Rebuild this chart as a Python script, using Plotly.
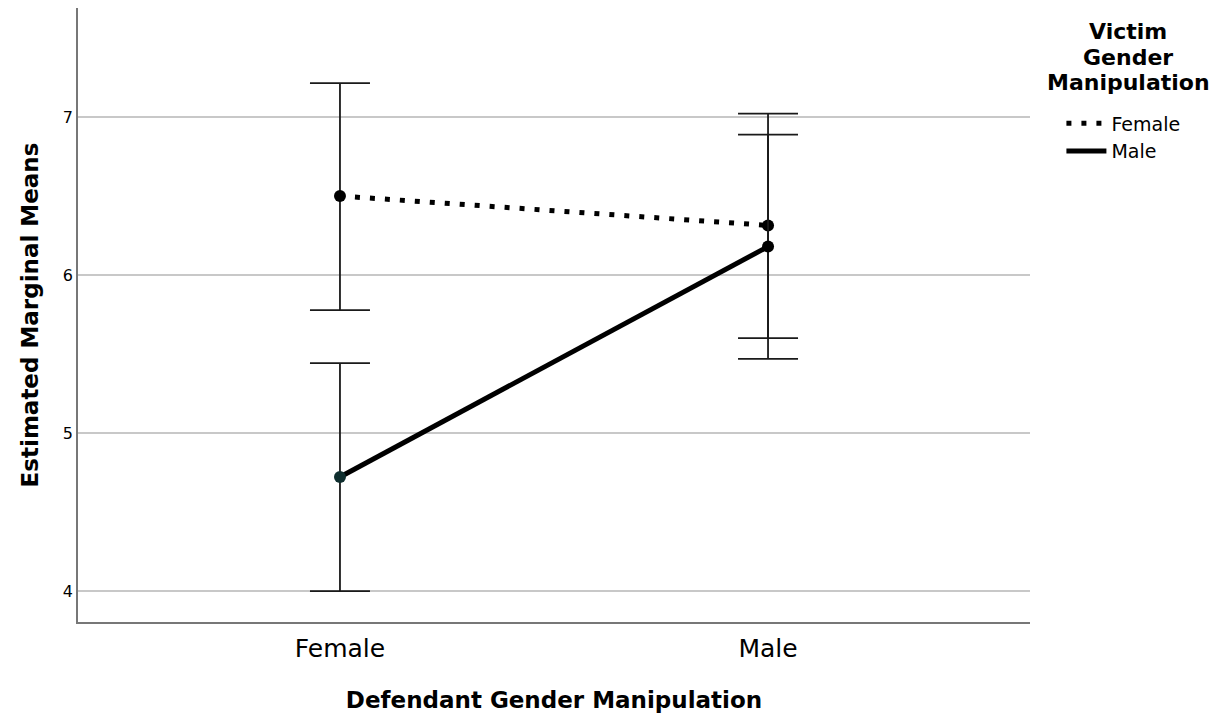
import plotly.graph_objects as go

defendant = ["Female", "Male"]
victim_groups = ["Female", "Male"]
means_female_victim = [6.50, 6.314]
upper_female_victim = [7.215, 7.021]
lower_female_victim = [5.778, 5.601]
means_male_victim = [4.722, 6.180]
upper_male_victim = [5.443, 6.889]
lower_male_victim = [4.000, 5.469]
legend_title_lines = ["Victim", "Gender", "Manipulation"]

FONT = "DejaVu Sans"
DOT = "5px,10px"

fig = go.Figure()

def add_series(name, means, upper, lower, dash, marker_color):
    fig.add_trace(go.Scatter(
        x=defendant, y=means, name=name, mode="lines+markers", showlegend=False,
        line=dict(color="black", width=5, dash=dash),
        marker=dict(color=marker_color, size=12, line=dict(width=0)),
        error_y=dict(type="data", symmetric=False,
                     array=[u - m for u, m in zip(upper, means)],
                     arrayminus=[m - l for m, l in zip(means, lower)],
                     color="#1a1a1a", thickness=1.8, width=30),
    ))
    # legend entry (line only, like the reference legend)
    fig.add_trace(go.Scatter(
        x=[None], y=[None], name=name, mode="lines",
        line=dict(color="black", width=5, dash=dash),
    ))

add_series(victim_groups[0], means_female_victim, upper_female_victim, lower_female_victim,
           DOT, "black")
add_series(victim_groups[1], means_male_victim, upper_male_victim, lower_male_victim,
           "solid", ["#0f2e2e", "black"])

for txt, yy in zip(legend_title_lines, [0.961, 0.919, 0.878]):
    fig.add_annotation(
        text=f"<b>{txt}</b>", xref="paper", yref="paper",
        x=1.103, y=yy, xanchor="center", yanchor="middle", showarrow=False,
        font=dict(size=22, family=FONT, color="black"),
    )

fig.update_layout(
    template="none",
    width=1219, height=709,
    margin=dict(l=70, r=197, t=0, b=95, autoexpand=False),
    paper_bgcolor="white", plot_bgcolor="white",
    font=dict(family=FONT, color="black"),
    showlegend=True,
    legend=dict(
        x=1.033, xanchor="left", y=0.843, yanchor="top",
        font=dict(size=19, family=FONT),
        itemwidth=40, tracegroupgap=0, bgcolor="rgba(0,0,0,0)",
    ),
    xaxis=dict(
        type="category", range=[-0.612, 1.612], automargin=False,
        showline=True, linecolor="#777777", linewidth=1.5, mirror=False,
        showgrid=False, ticks="", zeroline=False, ticklabelstandoff=3,
        tickfont=dict(size=25, family=FONT),
        title=dict(text="<b>Defendant Gender Manipulation</b>",
                   font=dict(size=23, family=FONT), standoff=30),
    ),
    yaxis=dict(
        range=[3.804, 7.69], tickvals=[4, 5, 6, 7], automargin=False,
        showline=True, linecolor="#777777", linewidth=1.5,
        showgrid=True, gridcolor="#c8c8c8", gridwidth=1.5,
        ticks="", zeroline=False,
        tickfont=dict(size=16, family=FONT),
        title=dict(text="<b>Estimated Marginal Means</b>",
                   font=dict(size=23, family=FONT), standoff=18),
    ),
)

fig.write_html("out.html")
